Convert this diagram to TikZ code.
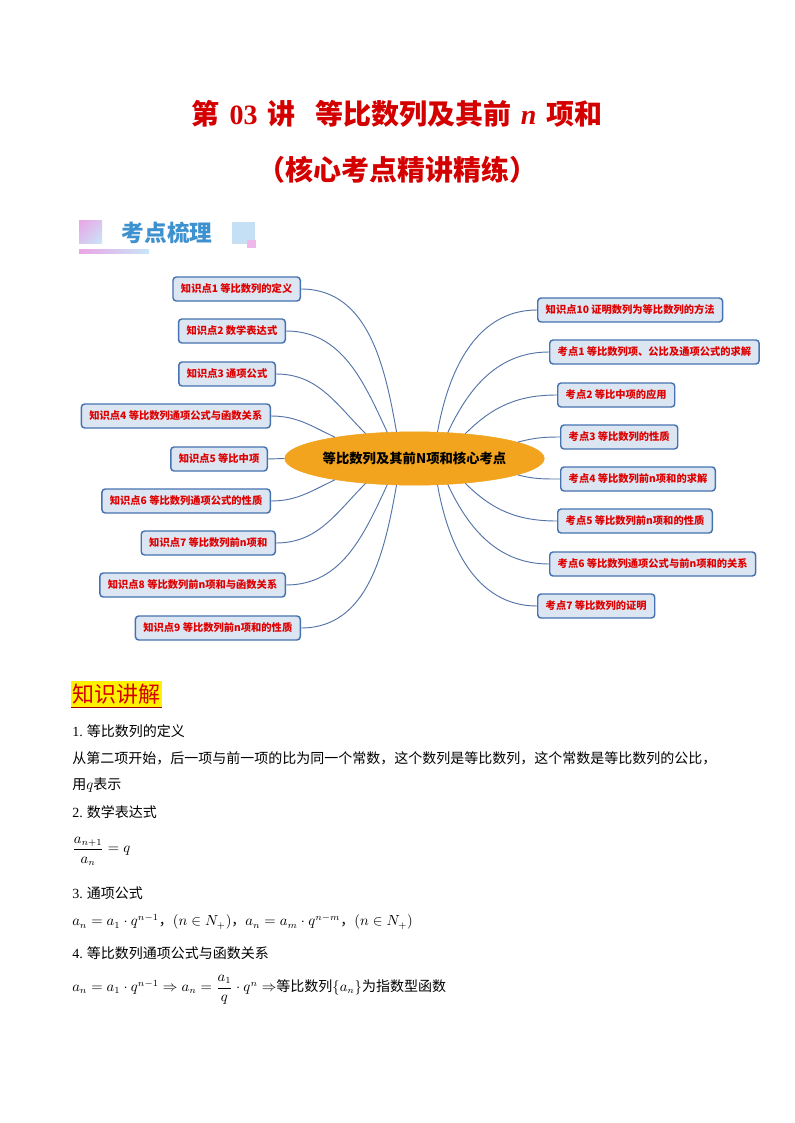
\documentclass[tikz,border=0pt]{standalone}
\usepackage{fontspec}
\usepackage{amsmath}
\usetikzlibrary{shapes.geometric,shadings}
\newfontfamily\cjk{Noto Sans CJK SC}
\newfontfamily\tnr{Liberation Serif}
\definecolor{titlered}{RGB}{212,0,0}
\definecolor{kpred}{RGB}{222,0,0}
\definecolor{kpfill}{RGB}{220,230,242}
\definecolor{kpdraw}{RGB}{70,114,176}
\definecolor{linkblue}{RGB}{84,116,168}
\definecolor{hubfill}{RGB}{242,164,30}
\definecolor{headblue}{RGB}{61,145,207}
\definecolor{headpink}{RGB}{234,166,230}
\definecolor{headcyan}{RGB}{200,230,248}
\definecolor{headsq}{RGB}{197,223,245}

\begin{document}
\begin{tikzpicture}[x=0.75pt, y=-0.75pt,
kpbox/.style={rectangle, draw=kpdraw, fill=kpfill, line width=1.1pt, rounded corners=2.5pt, minimum height=18pt, inner xsep=6pt, inner ysep=0pt, text=kpred, font=\cjk\bfseries\fontsize{7.7}{9}\selectfont},
hub/.style={ellipse, fill=hubfill, draw=hubfill, minimum width=168pt, minimum height=40pt, inner sep=0pt, font=\cjk\bfseries\fontsize{10}{12}\selectfont},
link/.style={draw=linkblue, line width=0.7pt},
titletext/.style={text=titlered, font=\cjk\bfseries\fontsize{21}{24}\selectfont},
bodytext/.style={anchor=west, inner sep=0pt, font=\cjk\fontsize{10.5}{12}\selectfont}]
\useasboundingbox[fill=white] (0,0) rectangle (794,1123);

\node[titletext] (title1) at (397,114) {第\hspace{0.35em}{\tnr 03}\hspace{0.35em}讲\hspace{0.7em}等比数列及其前\hspace{0.35em}{\tnr\bfseries\itshape n}\hspace{0.35em}项和};
\node[titletext] (title2) at (397,170) {（核心考点精讲精练）};

\shade[upper left=headpink, lower right=headcyan, upper right=headpink!50!headcyan, lower left=headpink!50!headcyan] (79,221) rectangle (102,243);
\shade[left color=headpink, right color=headcyan] (79,249) rectangle (149,253);
\fill[headsq] (232,222) rectangle (255,244);
\fill[headpink!80!white] (247,240) rectangle (256,248);
\node[text=headblue, font=\cjk\bfseries\fontsize{17}{19}\selectfont] (kdsl) at (167,233) {考点梳理};

\node[hub] (hub) at (414.5,458.5) {等比数列及其前N项和核心考点};

\node[kpbox, anchor=east] (kp1) at (301,289) {知识点1 等比数列的定义};
\node[kpbox, anchor=east] (kp2) at (286,331) {知识点2 数学表达式};
\node[kpbox, anchor=east] (kp3) at (276,374) {知识点3 通项公式};
\node[kpbox, anchor=east] (kp4) at (271,416) {知识点4 等比数列通项公式与函数关系};
\node[kpbox, anchor=east] (kp5) at (268,459) {知识点5 等比中项};
\node[kpbox, anchor=east] (kp6) at (271,501) {知识点6 等比数列通项公式的性质};
\node[kpbox, anchor=east] (kp7) at (276,543) {知识点7 等比数列前n项和};
\node[kpbox, anchor=east] (kp8) at (286,585) {知识点8 等比数列前n项和与函数关系};
\node[kpbox, anchor=east] (kp9) at (301,628) {知识点9 等比数列前n项和的性质};

\node[kpbox, anchor=west] (kp10) at (537,310) {知识点10 证明数列为等比数列的方法};
\node[kpbox, anchor=west] (kd1) at (549,352) {考点1 等比数列项、公比及通项公式的求解};
\node[kpbox, anchor=west] (kd2) at (557,395) {考点2 等比中项的应用};
\node[kpbox, anchor=west] (kd3) at (560,437) {考点3 等比数列的性质};
\node[kpbox, anchor=west] (kd4) at (560,479) {考点4 等比数列前n项和的求解};
\node[kpbox, anchor=west] (kd5) at (557,521) {考点5 等比数列前n项和的性质};
\node[kpbox, anchor=west] (kd6) at (549,564) {考点6 等比数列通项公式与前n项和的关系};
\node[kpbox, anchor=west] (kd7) at (537,606) {考点7 等比数列的证明};

\draw[link] (kp1.east) to[out=0, in=100] (hub.124);
\draw[link] (kp2.east) to[out=0, in=115] (hub.136);
\draw[link] (kp3.east) to[out=0, in=135] (hub.153);
\draw[link] (kp4.east) to[out=0, in=155] (hub.165);
\draw[link] (kp5.east) -- (hub.180);
\draw[link] (kp6.east) to[out=0, in=205] (hub.195);
\draw[link] (kp7.east) to[out=0, in=225] (hub.207);
\draw[link] (kp8.east) to[out=0, in=245] (hub.224);
\draw[link] (kp9.east) to[out=0, in=260] (hub.236);
\draw[link] (kp10.west) to[out=180, in=80] (hub.49);
\draw[link] (kd1.west) to[out=180, in=65] (hub.38);
\draw[link] (kd2.west) to[out=180, in=45] (hub.26);
\draw[link] (kd3.west) to[out=180, in=15] (hub.9);
\draw[link] (kd4.west) to[out=180, in=345] (hub.351);
\draw[link] (kd5.west) to[out=180, in=315] (hub.334);
\draw[link] (kd6.west) to[out=180, in=295] (hub.322);
\draw[link] (kd7.west) to[out=180, in=280] (hub.311);

\node[anchor=west, fill=yellow, text=titlered, inner xsep=1pt, inner ysep=2pt, font=\cjk\fontsize{16.5}{18}\selectfont] (zsjj) at (71,694) {知识讲解};
\draw[draw=red!60!black, line width=0.9pt] (zsjj.south west) -- (zsjj.south east);

\node[bodytext] (t1) at (72,731) {{\tnr 1.} 等比数列的定义};
\node[bodytext] (t1b) at (72,758) {从第二项开始，后一项与前一项的比为同一个常数，这个数列是等比数列，这个常数是等比数列的公比，};
\node[bodytext] (t1c) at (72,785) {用$q$表示};
\node[bodytext] (t2) at (72,812) {{\tnr 2.} 数学表达式};
\node[bodytext] (f2) at (72,851) {$\dfrac{a_{n+1}}{a_n}=q$};
\node[bodytext] (t3) at (72,893) {{\tnr 3.} 通项公式};
\node[bodytext] (f3) at (72,922) {$a_n=a_1\cdot q^{n-1}$，$\left(n\in N_+\right)$，$a_n=a_m\cdot q^{n-m}$，$\left(n\in N_+\right)$};
\node[bodytext] (t4) at (72,953) {{\tnr 4.} 等比数列通项公式与函数关系};
\node[bodytext] (f4) at (72,990) {$a_n=a_1\cdot q^{n-1}\Rightarrow a_n=\dfrac{a_1}{q}\cdot q^n\Rightarrow$等比数列$\{a_n\}$为指数型函数};
\end{tikzpicture}
\end{document}
